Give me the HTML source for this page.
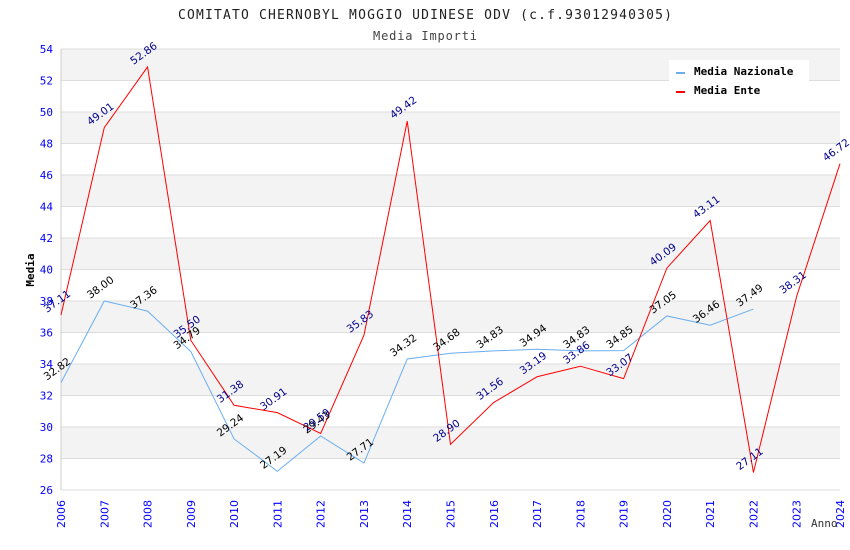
<!DOCTYPE html>
<html><head><meta charset="utf-8"><style>
body{margin:0;background:#fff;}
svg{display:block;font-family:"DejaVu Sans Mono","Liberation Mono",monospace;}
</style></head><body>
<svg id="c" width="850" height="550">
<text x="178" y="19" textLength="494" font-size="13" fill="#222">COMITATO CHERNOBYL MOGGIO UDINESE ODV (c.f.93012940305)</text>
<text x="373" y="40" textLength="104" font-size="12" fill="#444">Media Importi</text>
<g id="bands"></g><g id="grid"></g><g id="axes"></g><g id="lines"></g><g id="labels"></g>
<text x="0" y="0" transform="translate(34,270) rotate(-90)" text-anchor="middle" font-size="11" font-weight="bold" fill="#000">Media</text>
<text x="811" y="527" font-size="11" fill="#333">Anno</text>
<g>
<rect x="669" y="60" width="140" height="40" fill="#fff"/>
<rect x="676" y="72" width="9" height="2" fill="#6aaef0"/>
<text x="694" y="75" font-size="11" font-weight="bold" fill="#000">Media Nazionale</text>
<rect x="676" y="91" width="9" height="2" fill="#f00"/>
<text x="694" y="94" font-size="11" font-weight="bold" fill="#000">Media Ente</text>
</g>
</svg>
<script>
const years=[2006,2007,2008,2009,2010,2011,2012,2013,2014,2015,2016,2017,2018,2019,2020,2021,2022,2023,2024];
const nazionale=[32.82,38.00,37.36,34.79,29.24,27.19,29.43,27.71,34.32,34.68,34.83,34.94,34.83,34.85,37.05,36.46,37.49];
const ente=[37.11,49.01,52.86,35.50,31.38,30.91,29.59,35.83,49.42,28.90,31.56,33.19,33.86,33.07,40.09,43.11,27.11,38.31,46.72];
const yTicks=[26,28,30,32,34,36,38,40,42,44,46,48,50,52,54];
const NS="http://www.w3.org/2000/svg";
const x0=61,x1=840,y0=490,y1=49;
const xs=i=>x0+(x1-x0)*i/(years.length-1);
const ys=v=>y0-(v-26)/(54-26)*(y0-y1);
function mk(t,a,p){const e=document.createElementNS(NS,t);for(const k in a)e.setAttribute(k,a[k]);document.getElementById(p).appendChild(e);return e;}
for(let i=0;i<yTicks.length-1;i++){const v=yTicks[i];if(v%4===0){
const r=mk('rect',{x:x0,y:ys(v+2),width:x1-x0,height:ys(v)-ys(v+2),fill:'#f3f3f3'},'bands');

}}
yTicks.forEach(v=>{
const l=mk('line',{x1:x0,x2:x1,y1:ys(v),y2:ys(v),stroke:'#ddd'},'grid');


const t=mk('text',{x:x0-8,y:ys(v)+4,'text-anchor':'end','font-size':11,fill:'#00f'},'axes');t.textContent=v;

});
mk('line',{x1:x0,x2:x0,y1:y1,y2:y0,stroke:'#ccc'},'axes');
years.forEach((y,i)=>{
const t=mk('text',{x:0,y:0,transform:`translate(${xs(i)+4},${y0+38}) rotate(-90)`,'font-size':11,fill:'#00f','font-family':'DejaVu Sans, sans-serif'},'axes');t.textContent=y;

});
function series(arr,color,lc,name){
const p=mk('polyline',{points:arr.map((v,i)=>xs(i)+','+ys(v)).join(' '),fill:'none',stroke:color,'stroke-width':1},'lines');


arr.forEach((v,i)=>{const t=mk('text',{x:0,y:0,transform:`translate(${xs(i)-14},${ys(v)-2}) rotate(-36)`,'font-size':10.5,fill:lc,'font-family':'DejaVu Sans, sans-serif'},'labels');t.textContent=v.toFixed(2);

});}
series(nazionale,'#6aaef0','#000','line-nazionale');
series(ente,'#f00','#00008b','line-ente');
</script>
</body></html>
